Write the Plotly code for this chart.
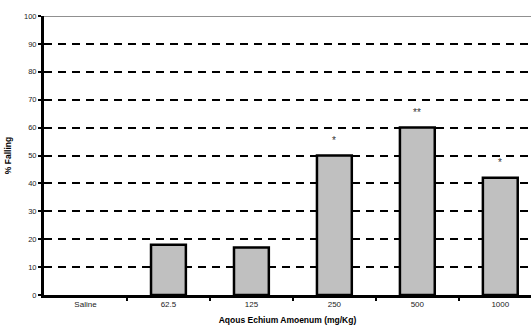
import plotly.graph_objects as go

# Dose groups and response
doses = ["Saline", "62.5", "125", "250", "500", "1000"]
falling_pct = [0, 18, 17, 50, 60, 42]
significance = ["", "", "", "*", "**", "*"]
y_ticks = [0, 10, 20, 30, 40, 50, 60, 70, 80, 90, 100]

x_pos = list(range(len(doses)))
# no outline on an empty (zero-height) bar
outline_w = [0 if v == 0 else 2.5 for v in falling_pct]

fig = go.Figure()
fig.add_trace(go.Bar(
    x=x_pos, y=falling_pct, width=0.42,
    marker=dict(color="#c0c0c0", line=dict(color="black", width=outline_w)),
    showlegend=False,
))

for xi, val, sig in zip(x_pos, falling_pct, significance):
    if sig:
        fig.add_annotation(x=xi, y=val, text=sig, showarrow=False,
                           yshift=15, font=dict(size=10, color="#333"))

# Light border line across the top of the plot area
fig.add_shape(type="line", xref="paper", yref="y", x0=0, x1=1, y0=100, y1=100,
              line=dict(color="#909090", width=2), layer="above")

fig.update_layout(
    width=531, height=330,
    margin=dict(l=44, r=0, t=16, b=35),
    plot_bgcolor="white", paper_bgcolor="white",
    font=dict(family="Liberation Sans, Arial, sans-serif", color="black"),
    bargap=0.5,
)
fig.update_xaxes(
    range=[-0.5, 5.37], tickmode="array", tickvals=x_pos, ticktext=doses,
    ticks="", tickfont=dict(size=8, color="#222"),
    showline=True, linecolor="black", linewidth=2.5,
    showgrid=False, zeroline=False,
    minor=dict(tickmode="array", tickvals=[0.5, 1.5, 2.5, 3.5, 4.5],
               ticks="outside", ticklen=3, tickwidth=2, tickcolor="black"),
    title=dict(text="<b>Aqous Echium Amoenum (mg/Kg)</b>", font=dict(size=8.5), standoff=9),
)
fig.update_yaxes(
    range=[0, 100], tickmode="array", tickvals=y_ticks,
    ticks="outside", ticklen=3, tickwidth=2, tickcolor="black",
    tickfont=dict(size=7.5, color="#222"),
    showline=True, linecolor="black", linewidth=3,
    showgrid=True, gridcolor="black", gridwidth=1.8, griddash="8px,6px",
    zeroline=False,
    title=dict(text="<b>% Falling</b>", font=dict(size=8.5), standoff=12),
)

fig.write_html("out.html")
